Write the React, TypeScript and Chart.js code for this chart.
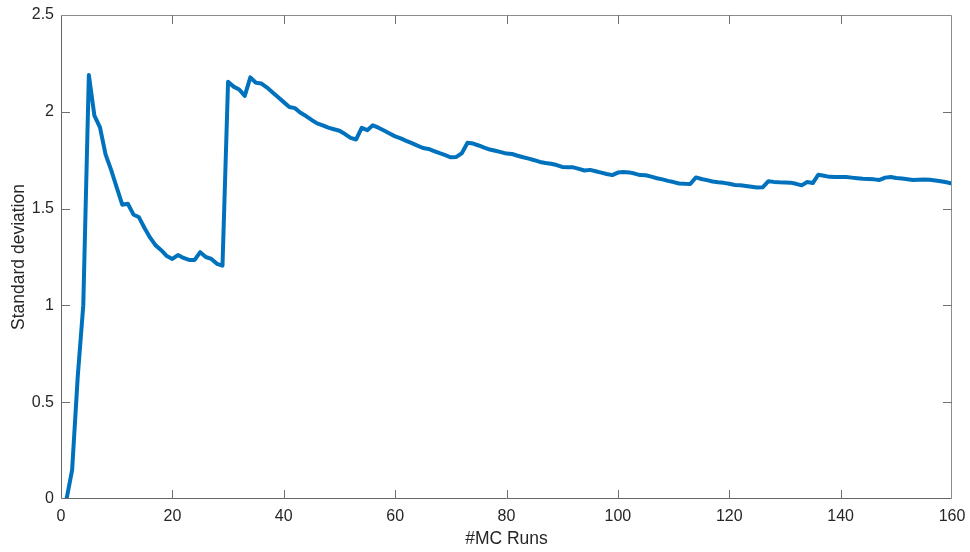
import React, { useEffect, useRef } from "react";
import { Chart, registerables } from "chart.js";

Chart.register(...registerables);

const runs: number[] = Array.from({ length: 160 }, (_, i) => i + 1);

const stdDev: number[] = [
  0, 0.15, 0.63, 1.0, 2.19, 1.98, 1.92, 1.78, 1.7, 1.61,
  1.52, 1.525, 1.47, 1.455, 1.4, 1.35, 1.31, 1.285, 1.255, 1.24,
  1.26, 1.245, 1.235, 1.235, 1.275, 1.25, 1.24, 1.215, 1.205, 2.155,
  2.13, 2.115, 2.082, 2.178, 2.15, 2.146, 2.125, 2.1, 2.075, 2.05,
  2.025, 2.019, 1.995, 1.978, 1.958, 1.94, 1.93, 1.918, 1.91, 1.902,
  1.885, 1.865, 1.857, 1.917, 1.905, 1.93, 1.918, 1.903, 1.888, 1.873,
  1.863, 1.85, 1.838, 1.825, 1.813, 1.808, 1.797, 1.786, 1.776, 1.765,
  1.767, 1.787, 1.84, 1.836, 1.826, 1.815, 1.805, 1.799, 1.792, 1.784,
  1.782, 1.773, 1.765, 1.758, 1.75, 1.741, 1.736, 1.732, 1.725, 1.715,
  1.713, 1.713, 1.705, 1.697, 1.7, 1.693, 1.686, 1.679, 1.673, 1.686,
  1.689, 1.687, 1.681, 1.673, 1.672, 1.665, 1.657, 1.651, 1.643, 1.637,
  1.63, 1.628, 1.627, 1.661, 1.653, 1.647, 1.64, 1.636, 1.633, 1.628,
  1.622, 1.621, 1.617, 1.613, 1.609, 1.61, 1.641, 1.638, 1.636, 1.635,
  1.634, 1.628, 1.62, 1.637, 1.632, 1.675, 1.67, 1.664, 1.663, 1.663,
  1.663, 1.66, 1.657, 1.654, 1.653, 1.651, 1.648, 1.66, 1.663, 1.658,
  1.656, 1.652, 1.648, 1.649, 1.65, 1.649, 1.645, 1.641, 1.636, 1.63,
];

const xTicks: number[] = [0, 20, 40, 60, 80, 100, 120, 140, 160];
const yTicks: number[] = [0, 0.5, 1, 1.5, 2, 2.5];

const xTitle = "#MC Runs";
const yTitle = "Standard deviation";

const FONT = "Arial, 'Liberation Sans', Helvetica, sans-serif";

const boxPlugin = {
  id: "matlabBox",
  afterDatasetsDraw(chart: any) {
    const { ctx, chartArea, scales } = chart;
    const { left, right, top, bottom } = chartArea;
    const tl = 9;
    ctx.save();
    ctx.lineWidth = 1;
    ctx.strokeStyle = "#8c8c8c";
    ctx.beginPath();
    ctx.moveTo(left + 0.5, top + 0.5);
    ctx.lineTo(right - 0.5, top + 0.5);
    ctx.lineTo(right - 0.5, bottom - 0.5);
    ctx.stroke();
    ctx.strokeStyle = "#666666";
    ctx.beginPath();
    ctx.moveTo(left + 0.5, top + 0.5);
    ctx.lineTo(left + 0.5, bottom - 0.5);
    ctx.lineTo(right - 0.5, bottom - 0.5);
    ctx.stroke();
    ctx.strokeStyle = "#707070";
    ctx.beginPath();
    for (const v of xTicks) {
      const px = Math.round(scales.x.getPixelForValue(v)) + 0.5;
      if (v === xTicks[0] || v === xTicks[xTicks.length - 1]) continue;
      ctx.moveTo(px, bottom);
      ctx.lineTo(px, bottom - tl);
      ctx.moveTo(px, top);
      ctx.lineTo(px, top + tl);
    }
    for (const v of yTicks) {
      const py = Math.round(scales.y.getPixelForValue(v)) + 0.5;
      if (v === yTicks[0] || v === yTicks[yTicks.length - 1]) continue;
      ctx.moveTo(left, py);
      ctx.lineTo(left + tl, py);
      ctx.moveTo(right, py);
      ctx.lineTo(right - tl, py);
    }
    ctx.stroke();
    ctx.restore();
  },
};

export default function App() {
  const ref = useRef<HTMLCanvasElement | null>(null);

  useEffect(() => {
    if (!ref.current) return;
    const chart = new Chart(ref.current, {
      type: "line",
      data: {
        datasets: [
          {
            data: runs.map((r, i) => ({ x: r, y: stdDev[i] })),
            borderColor: "#0072BD",
            borderWidth: 4,
            pointRadius: 0,
            tension: 0,
            fill: false,
            borderJoinStyle: "round",
            borderCapStyle: "round",
          },
        ],
      },
      options: {
        animation: false,
        responsive: false,
        maintainAspectRatio: false,
        layout: { padding: { top: 15, right: 18, left: 0, bottom: 0 } },
        plugins: {
          legend: { display: false },
          tooltip: { enabled: false },
        },
        scales: {
          x: {
            type: "linear",
            min: 0,
            max: 160,
            afterBuildTicks: (s: any) => {
              s.ticks = xTicks.map((v) => ({ value: v }));
            },
            afterFit: (s: any) => {
              s.height = 53;
              s.paddingLeft = 0;
              s.paddingRight = 0;
            },
            grid: { display: false, drawTicks: false },
            border: { display: false },
            ticks: {
              padding: 8,
              maxRotation: 0,
              autoSkip: false,
              color: "#262626",
              font: { family: FONT, size: 16 },
              callback: (v: any) => String(v),
            },
            title: {
              display: true,
              text: xTitle,
              color: "#262626",
              font: { family: FONT, size: 17.5 },
              padding: { top: 0, bottom: 2.5 },
            },
          },
          y: {
            type: "linear",
            min: 0,
            max: 2.5,
            afterBuildTicks: (s: any) => {
              s.ticks = yTicks.map((v) => ({ value: v }));
            },
            afterFit: (s: any) => {
              s.width = 61;
              s.paddingTop = 0;
              s.paddingBottom = 0;
            },
            grid: { display: false, drawTicks: false },
            border: { display: false },
            ticks: {
              padding: 7,
              autoSkip: false,
              color: "#262626",
              font: { family: FONT, size: 16 },
              callback: (v: any) => String(v),
            },
            title: {
              display: true,
              text: yTitle,
              color: "#262626",
              font: { family: FONT, size: 17.5 },
              padding: { top: 8.5, bottom: 0 },
            },
          },
        },
      },
      plugins: [boxPlugin],
    });
    return () => chart.destroy();
  }, []);

  return (
    <div
      style={{
        position: "fixed",
        left: 0,
        top: 0,
        width: 970,
        height: 552,
        background: "#ffffff",
      }}
    >
      <canvas ref={ref} width={970} height={552} style={{ width: 970, height: 552, display: "block" }} />
    </div>
  );
}
